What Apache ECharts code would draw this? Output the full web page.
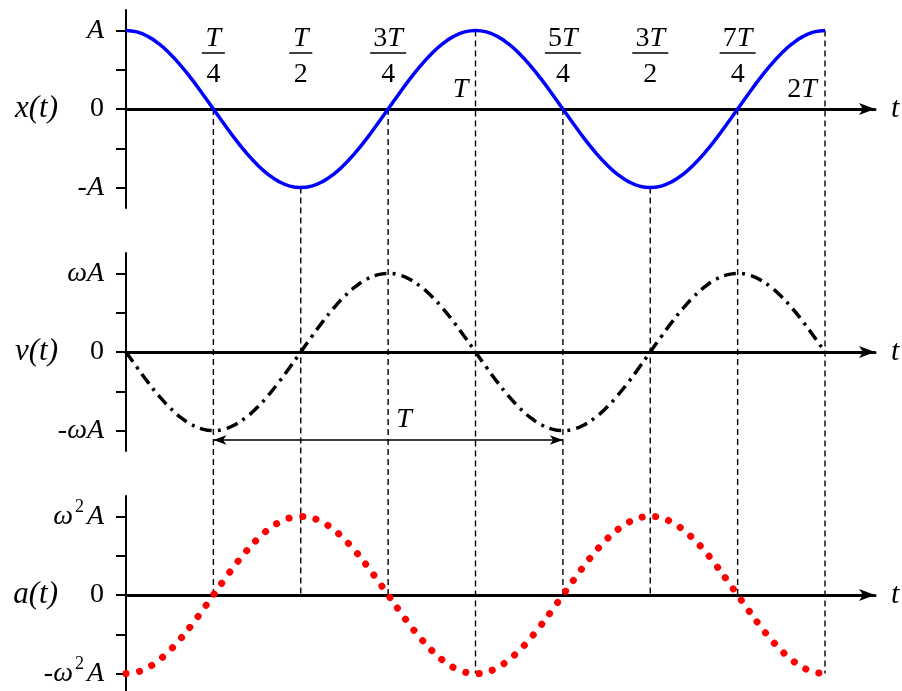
<!DOCTYPE html>
<html>
<head>
<meta charset="utf-8">
<script src="https://cdn.jsdelivr.net/npm/echarts@6/dist/echarts.min.js"></script>
<style>
  html, body { margin: 0; padding: 0; background: #fff; }
  #chart { width: 902px; height: 691px; }
</style>
</head>
<body>
<div id="chart"></div>
<script>
// time, in units of the period T
const tValues = [
  0, 0.03125, 0.0625, 0.09375, 0.125, 0.15625, 0.1875, 0.21875,
  0.25, 0.28125, 0.3125, 0.34375, 0.375, 0.40625, 0.4375, 0.46875,
  0.5, 0.53125, 0.5625, 0.59375, 0.625, 0.65625, 0.6875, 0.71875,
  0.75, 0.78125, 0.8125, 0.84375, 0.875, 0.90625, 0.9375, 0.96875,
  1, 1.03125, 1.0625, 1.09375, 1.125, 1.15625, 1.1875, 1.21875,
  1.25, 1.28125, 1.3125, 1.34375, 1.375, 1.40625, 1.4375, 1.46875,
  1.5, 1.53125, 1.5625, 1.59375, 1.625, 1.65625, 1.6875, 1.71875,
  1.75, 1.78125, 1.8125, 1.84375, 1.875, 1.90625, 1.9375, 1.96875, 2];
// x(t) in units of A
const xValues = [
  1, 0.981, 0.924, 0.831, 0.707, 0.556, 0.383, 0.195,
  0, -0.195, -0.383, -0.556, -0.707, -0.831, -0.924, -0.981,
  -1, -0.981, -0.924, -0.831, -0.707, -0.556, -0.383, -0.195,
  0, 0.195, 0.383, 0.556, 0.707, 0.831, 0.924, 0.981,
  1, 0.981, 0.924, 0.831, 0.707, 0.556, 0.383, 0.195,
  0, -0.195, -0.383, -0.556, -0.707, -0.831, -0.924, -0.981,
  -1, -0.981, -0.924, -0.831, -0.707, -0.556, -0.383, -0.195,
  0, 0.195, 0.383, 0.556, 0.707, 0.831, 0.924, 0.981, 1];
// v(t) in units of wA
const vValues = [
  0, -0.195, -0.383, -0.556, -0.707, -0.831, -0.924, -0.981,
  -1, -0.981, -0.924, -0.831, -0.707, -0.556, -0.383, -0.195,
  0, 0.195, 0.383, 0.556, 0.707, 0.831, 0.924, 0.981,
  1, 0.981, 0.924, 0.831, 0.707, 0.556, 0.383, 0.195,
  0, -0.195, -0.383, -0.556, -0.707, -0.831, -0.924, -0.981,
  -1, -0.981, -0.924, -0.831, -0.707, -0.556, -0.383, -0.195,
  0, 0.195, 0.383, 0.556, 0.707, 0.831, 0.924, 0.981,
  1, 0.981, 0.924, 0.831, 0.707, 0.556, 0.383, 0.195, 0];
// a(t) in units of w^2 A
const aValues = [
  -1, -0.981, -0.924, -0.831, -0.707, -0.556, -0.383, -0.195,
  0, 0.195, 0.383, 0.556, 0.707, 0.831, 0.924, 0.981,
  1, 0.981, 0.924, 0.831, 0.707, 0.556, 0.383, 0.195,
  0, -0.195, -0.383, -0.556, -0.707, -0.831, -0.924, -0.981,
  -1, -0.981, -0.924, -0.831, -0.707, -0.556, -0.383, -0.195,
  0, 0.195, 0.383, 0.556, 0.707, 0.831, 0.924, 0.981,
  1, 0.981, 0.924, 0.831, 0.707, 0.556, 0.383, 0.195,
  0, -0.195, -0.383, -0.556, -0.707, -0.831, -0.924, -0.981, -1];

const panelNames = ['x(t)', 'v(t)', 'a(t)'];
const yTickValues = [-1, -0.5, 0, 0.5, 1];
const yLabelValues = [-1, 0, 1];
const xLabelsY = ['-{i|A}', '0', '{i|A}'];
const vLabelsY = ['-{i|ωA}', '0', '{i|ωA}'];
const aLabelsY = ['-{i|ω}{s|2}{i|A}', '0', '{i|ω}{s|2}{i|A}'];

const xTickValues = [0.25, 0.5, 0.75, 1, 1.25, 1.5, 1.75, 2];
const xTickLabels = [
  '{ni|T}\n{b1| }\n{d|4}',
  '{ni|T}\n{b1| }\n{d|2}',
  '{n|3}{ni|T}\n{b2| }\n{d|4}',
  '{sp| }\n{t1|T}',
  '{n|5}{ni|T}\n{b2| }\n{d|4}',
  '{n|3}{ni|T}\n{b2| }\n{d|2}',
  '{n|7}{ni|T}\n{b2| }\n{d|4}',
  '{sp| }\n{t2|2}{t2i|T}'
];

// dashed guides: [t, from panel, from value, to panel, to value]
const guideLines = [
  [0.25, 0, 0, 2, 0], [0.5, 0, -1, 2, 0], [0.75, 0, 0, 2, 0], [1, 0, 1, 2, -1],
  [1.25, 0, 0, 2, 0], [1.5, 0, -1, 2, 0], [1.75, 0, 0, 2, 0], [2, 0, 1, 2, -1]
];
// period arrow in the velocity panel: [t start, t end, level]
const periodArrow = [0.25, 1.25, -1.12];

const FONT = 'Liberation Serif';
const gridTops = [10, 253, 496];
const yLabelSets = [xLabelsY, vLabelsY, aLabelsY];

const chart = echarts.init(document.getElementById('chart'));

const grids = gridTops.map(top => ({
  left: 126, width: 749, top: top, height: 198, outerBoundsMode: 'none'
}));

const xAxes = gridTops.map((top, i) => ({
  type: 'value', gridIndex: i, min: 0, max: 2.143,
  name: 't', nameLocation: 'end', nameGap: 16, nameMoveOverlap: false,
  nameTextStyle: { fontFamily: FONT, fontStyle: 'italic', fontSize: 30, color: '#000' },
  axisLine: { onZero: true, symbol: ['none', 'arrow'], symbolSize: [9, 16],
    lineStyle: { color: '#000', width: 3 } },
  axisTick: { show: false },
  splitLine: { show: false },
  // labels are laid out from the grid's bottom edge; a negative margin lifts them above the zero line
  axisLabel: i === 0 ? {
    show: true, margin: -181, verticalAlign: 'top',
    customValues: xTickValues,
    formatter: v => xTickLabels[xTickValues.indexOf(v)],
    color: '#000', fontFamily: FONT, fontSize: 28,
    rich: {
      n: { fontFamily: FONT, fontSize: 28, lineHeight: 24, align: 'center' },
      ni: { fontFamily: FONT, fontSize: 28, fontStyle: 'italic', lineHeight: 24, align: 'center' },
      d: { fontFamily: FONT, fontSize: 28, lineHeight: 40, align: 'center' },
      b1: { width: 23, height: 1.5, lineHeight: 4, fontSize: 1, backgroundColor: '#000', align: 'center' },
      b2: { width: 36, height: 1.5, lineHeight: 4, fontSize: 1, backgroundColor: '#000', align: 'center' },
      sp: { fontSize: 4, lineHeight: 49, align: 'center' },
      t1: { fontFamily: FONT, fontSize: 28, fontStyle: 'italic', lineHeight: 28, padding: [0, 30, 0, 0], align: 'center' },
      t2: { fontFamily: FONT, fontSize: 28, lineHeight: 28, align: 'center' },
      t2i: { fontFamily: FONT, fontSize: 28, fontStyle: 'italic', lineHeight: 28, padding: [0, 46, 0, 0], align: 'center' }
    }
  } : { show: false }
}));

const yAxes = gridTops.map((top, i) => ({
  type: 'value', gridIndex: i, min: -1.26, max: 1.26,
  name: panelNames[i], nameLocation: 'middle', nameRotate: 0, nameGap: 68, nameMoveOverlap: false,
  nameTextStyle: { fontFamily: FONT, fontStyle: 'italic', fontSize: 31, color: '#000' },
  axisLine: { onZero: true, lineStyle: { color: '#000', width: 2 } },
  axisTick: { show: true, customValues: yTickValues, length: 10, lineStyle: { color: '#000', width: 2 } },
  splitLine: { show: false },
  axisLabel: {
    show: true, margin: 22, customValues: yLabelValues,
    formatter: v => yLabelSets[i][yLabelValues.indexOf(v)],
    color: '#000', fontFamily: FONT, fontSize: 28,
    rich: {
      i: { fontFamily: FONT, fontSize: 28, fontStyle: 'italic' },
      s: { fontFamily: FONT, fontSize: 18, padding: [0, 3, 18, 2] }
    }
  }
}));

const pairs = vals => tValues.map((t, k) => [t, vals[k]]);

chart.setOption({
  animation: false,
  textStyle: { fontFamily: FONT },
  grid: grids,
  xAxis: xAxes,
  yAxis: yAxes,
  series: [
    {
      type: 'line', xAxisIndex: 0, yAxisIndex: 0, data: pairs(xValues),
      smooth: true, showSymbol: false, silent: true, z: 3,
      lineStyle: { color: '#0000ff', width: 3.5 }
    },
    {
      type: 'line', xAxisIndex: 1, yAxisIndex: 1, data: pairs(vValues),
      smooth: true, showSymbol: false, silent: true, z: 3,
      lineStyle: { color: '#000', width: 3.5, type: [12, 6, 3, 6], cap: 'butt' },
      markLine: {
        silent: true, symbol: ['arrow', 'arrow'], symbolSize: [7, 13],
        lineStyle: { color: '#000', width: 1.5, type: 'solid' },
        label: {
          show: true, position: 'middle', formatter: 'T', distance: 6,
          fontFamily: FONT, fontStyle: 'italic', fontSize: 28, color: '#000',
          padding: [0, 0, 0, 32]
        },
        data: [[{ coord: [periodArrow[0], periodArrow[2]] }, { coord: [periodArrow[1], periodArrow[2]] }]]
      }
    },
    {
      type: 'line', xAxisIndex: 2, yAxisIndex: 2, data: pairs(aValues),
      smooth: true, showSymbol: false, silent: true, z: 3,
      lineStyle: { color: '#ff0000', width: 7, type: [0.1, 13.5], cap: 'round' }
    }
  ]
});

// dashed guides run across the panels, so place them through each grid's scales
const guides = guideLines.map(([t, p1, v1, p2, v2]) => {
  const a = chart.convertToPixel({ gridIndex: p1 }, [t, v1]);
  const b = chart.convertToPixel({ gridIndex: p2 }, [t, v2]);
  return {
    type: 'line', silent: true, z: 1,
    shape: { x1: a[0], y1: a[1], x2: b[0], y2: b[1] },
    style: { stroke: '#000', lineWidth: 1.4, lineDash: [6, 4] }
  };
});
chart.setOption({ graphic: guides });

window.addEventListener('resize', function () { chart.resize(); });
</script>
</body>
</html>
